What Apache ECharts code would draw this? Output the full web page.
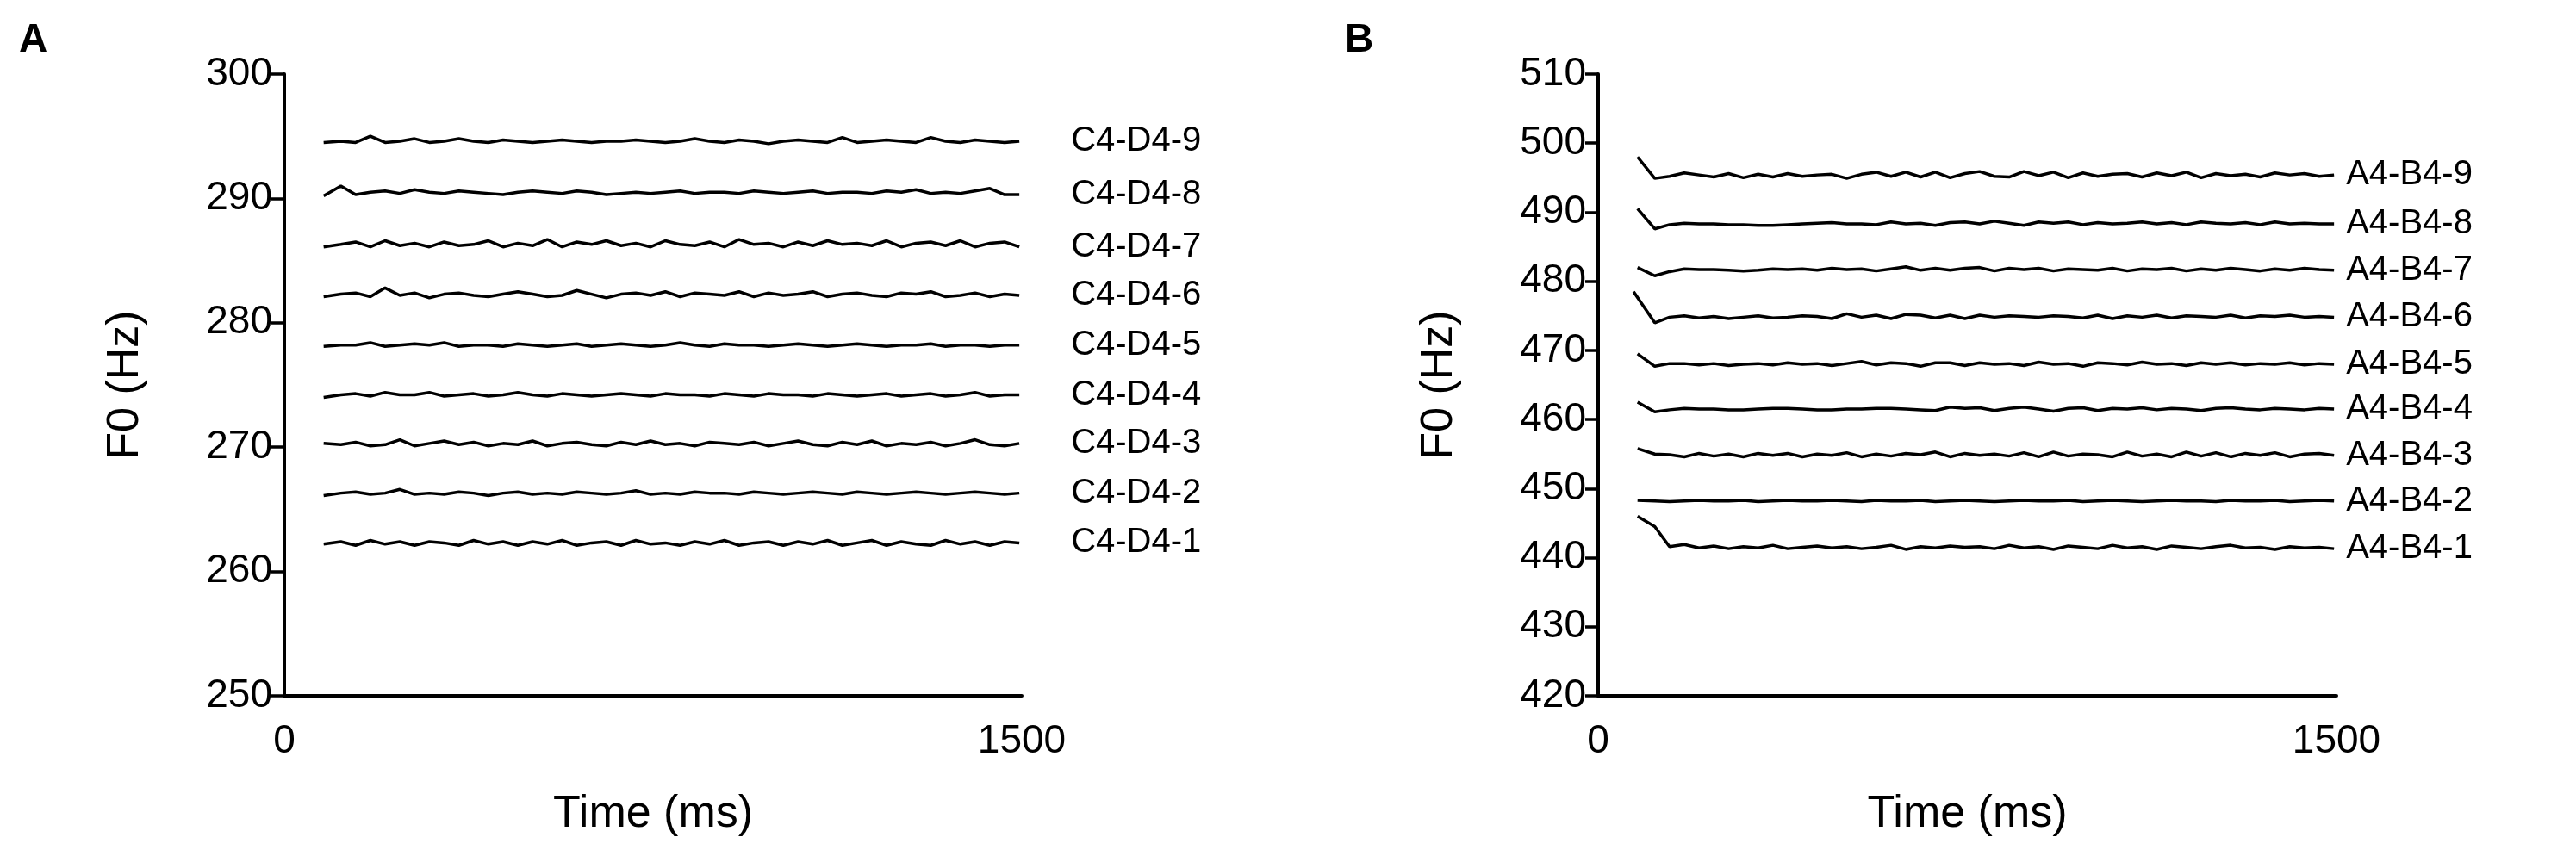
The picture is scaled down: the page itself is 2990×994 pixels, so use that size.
<!DOCTYPE html>
<html><head><meta charset="utf-8">
<script src="https://cdn.jsdelivr.net/npm/echarts@6/dist/echarts.min.js"></script>
<style>html,body{margin:0;padding:0;background:#fff}#c{width:2990px;height:994px}</style>
</head><body><div id="c"></div>
<script>
const times = [80,115,145,175,205,235,265,295,325,355,385,415,445,475,505,535,565,595,625,655,685,715,745,775,805,835,865,895,925,955,985,1015,1045,1075,1105,1135,1165,1195,1225,1255,1285,1315,1345,1375,1405,1435,1465,1495];
const timesB6 = [72,115,145,175,205,235,265,295,325,355,385,415,445,475,505,535,565,595,625,655,685,715,745,775,805,835,865,895,925,955,985,1015,1045,1075,1105,1135,1165,1195,1225,1255,1285,1315,1345,1375,1405,1435,1465,1495];
const namesA = ["C4-D4-1","C4-D4-2","C4-D4-3","C4-D4-4","C4-D4-5","C4-D4-6","C4-D4-7","C4-D4-8","C4-D4-9"];
const namesB = ["A4-B4-1","A4-B4-2","A4-B4-3","A4-B4-4","A4-B4-5","A4-B4-6","A4-B4-7","A4-B4-8","A4-B4-9"];
const yTicksA = [250,300,10];
const yTicksB = [420,510,10];

const A1 = [262.2,262.4,262.1,262.5,262.2,262.4,262.1,262.4,262.3,262.1,262.5,262.2,262.4,262.1,262.4,262.2,262.5,262.1,262.3,262.4,262.1,262.5,262.2,262.3,262.1,262.4,262.2,262.5,262.1,262.3,262.4,262.1,262.4,262.2,262.5,262.1,262.3,262.5,262.1,262.4,262.2,262.1,262.5,262.2,262.4,262.1,262.4,262.3];
const A2 = [266.1,266.3,266.4,266.2,266.3,266.6,266.2,266.3,266.2,266.4,266.3,266.1,266.3,266.4,266.2,266.3,266.2,266.4,266.3,266.2,266.3,266.5,266.2,266.3,266.2,266.4,266.3,266.3,266.2,266.4,266.3,266.2,266.3,266.4,266.3,266.2,266.4,266.3,266.2,266.3,266.4,266.3,266.2,266.3,266.4,266.3,266.2,266.3];
const A3 = [270.3,270.2,270.4,270.1,270.2,270.6,270.1,270.3,270.5,270.2,270.4,270.1,270.3,270.2,270.5,270.1,270.3,270.4,270.2,270.1,270.4,270.2,270.5,270.2,270.3,270.1,270.4,270.3,270.2,270.4,270.1,270.3,270.5,270.2,270.1,270.4,270.2,270.5,270.1,270.3,270.2,270.4,270.1,270.3,270.6,270.2,270.1,270.3];
const A4 = [274.0,274.2,274.3,274.1,274.4,274.2,274.2,274.4,274.1,274.2,274.3,274.1,274.2,274.4,274.2,274.1,274.3,274.2,274.1,274.2,274.3,274.2,274.1,274.3,274.2,274.2,274.1,274.3,274.2,274.1,274.3,274.2,274.2,274.1,274.3,274.2,274.1,274.2,274.3,274.1,274.2,274.3,274.1,274.2,274.4,274.1,274.2,274.2];
const A5 = [278.1,278.2,278.2,278.4,278.1,278.2,278.3,278.2,278.4,278.1,278.2,278.2,278.1,278.3,278.2,278.1,278.2,278.3,278.1,278.2,278.3,278.2,278.1,278.2,278.4,278.2,278.1,278.3,278.2,278.2,278.1,278.2,278.3,278.2,278.1,278.2,278.3,278.2,278.1,278.2,278.2,278.3,278.1,278.2,278.2,278.1,278.2,278.2];
const A6 = [282.1,282.3,282.4,282.1,282.8,282.2,282.4,282.0,282.3,282.4,282.2,282.1,282.3,282.5,282.3,282.1,282.2,282.6,282.3,282.0,282.3,282.4,282.2,282.5,282.1,282.4,282.3,282.2,282.5,282.1,282.4,282.2,282.3,282.5,282.1,282.3,282.4,282.2,282.1,282.4,282.3,282.5,282.1,282.2,282.4,282.1,282.3,282.2];
const A7 = [286.1,286.3,286.5,286.1,286.6,286.2,286.4,286.1,286.5,286.2,286.3,286.6,286.1,286.4,286.2,286.7,286.1,286.5,286.3,286.6,286.2,286.4,286.1,286.6,286.3,286.2,286.5,286.1,286.7,286.3,286.4,286.1,286.5,286.2,286.6,286.3,286.4,286.2,286.6,286.1,286.4,286.5,286.2,286.6,286.1,286.4,286.5,286.1];
const A8 = [290.2,291.0,290.3,290.5,290.6,290.4,290.7,290.5,290.4,290.6,290.5,290.4,290.3,290.5,290.6,290.5,290.4,290.6,290.5,290.3,290.4,290.5,290.4,290.5,290.6,290.4,290.5,290.5,290.4,290.6,290.5,290.4,290.5,290.6,290.4,290.5,290.5,290.4,290.6,290.5,290.7,290.4,290.5,290.4,290.6,290.8,290.3,290.3];
const A9 = [294.5,294.6,294.5,295.0,294.5,294.6,294.8,294.5,294.6,294.8,294.6,294.5,294.7,294.6,294.5,294.6,294.7,294.6,294.5,294.6,294.6,294.7,294.6,294.5,294.6,294.8,294.6,294.5,294.7,294.6,294.4,294.6,294.7,294.6,294.5,294.9,294.5,294.6,294.7,294.6,294.5,294.9,294.6,294.5,294.7,294.6,294.5,294.6];

const B1 = [446.0,444.5,441.6,441.9,441.4,441.7,441.3,441.6,441.4,441.8,441.3,441.5,441.7,441.4,441.6,441.3,441.5,441.8,441.2,441.6,441.4,441.7,441.5,441.6,441.3,441.8,441.4,441.6,441.2,441.7,441.5,441.3,441.8,441.4,441.6,441.2,441.7,441.5,441.3,441.6,441.8,441.4,441.5,441.2,441.6,441.4,441.5,441.3];
const B2 = [448.3,448.2,448.1,448.2,448.3,448.2,448.2,448.3,448.1,448.2,448.3,448.2,448.2,448.3,448.2,448.1,448.3,448.2,448.2,448.3,448.1,448.2,448.3,448.2,448.1,448.2,448.3,448.2,448.2,448.3,448.1,448.2,448.3,448.2,448.1,448.2,448.3,448.2,448.2,448.1,448.3,448.2,448.2,448.3,448.1,448.2,448.3,448.2];
const B3 = [455.8,455.0,454.9,454.6,455.1,454.7,455.0,454.6,455.1,454.8,455.1,454.6,455.0,454.8,455.2,454.6,455.0,454.7,455.1,454.9,455.3,454.6,455.1,454.8,455.0,454.7,455.2,454.6,455.3,454.7,455.0,454.9,454.6,455.3,454.7,455.0,454.6,455.3,454.7,455.2,454.6,455.1,454.8,455.2,454.6,455.0,455.1,454.8];
const B4 = [462.5,461.1,461.4,461.6,461.5,461.5,461.4,461.4,461.5,461.6,461.6,461.5,461.4,461.4,461.5,461.5,461.6,461.6,461.5,461.4,461.3,461.8,461.6,461.7,461.3,461.6,461.8,461.5,461.2,461.6,461.7,461.3,461.6,461.5,461.7,461.4,461.6,461.5,461.3,461.6,461.7,461.5,461.4,461.6,461.5,461.4,461.6,461.5];
const B5 = [469.5,467.7,468.1,468.1,467.9,468.1,467.8,468.0,468.1,467.9,468.2,468.0,468.1,467.8,468.1,468.4,467.9,468.2,468.1,467.7,468.2,468.2,467.8,468.2,468.0,468.1,467.8,468.3,468.0,468.1,467.7,468.2,468.1,467.9,468.3,468.0,468.1,467.8,468.2,468.0,468.2,467.9,468.1,468.0,468.2,467.9,468.1,468.0];
const B6 = [478.5,474.0,474.8,475.0,474.7,474.9,474.6,474.8,475.0,474.7,474.8,475.0,474.9,474.6,475.3,474.8,475.1,474.6,475.2,475.1,474.7,475.1,474.6,475.1,474.8,475.0,474.9,474.8,475.0,474.9,474.7,475.1,474.6,475.0,474.8,475.1,474.7,475.0,474.9,474.8,475.1,474.7,475.0,474.9,475.1,474.8,474.9,474.8];
const B7 = [482.0,480.8,481.4,481.8,481.7,481.7,481.6,481.5,481.6,481.8,481.7,481.8,481.6,481.9,481.7,481.8,481.5,481.8,482.1,481.6,481.9,481.6,481.9,482.0,481.5,481.9,481.7,481.9,481.5,481.8,481.7,481.6,481.9,481.5,481.8,481.7,481.9,481.5,481.8,481.6,481.9,481.7,481.5,481.8,481.6,481.9,481.7,481.6];
const B8 = [490.5,487.6,488.2,488.4,488.3,488.3,488.2,488.2,488.1,488.1,488.2,488.3,488.4,488.5,488.3,488.3,488.2,488.6,488.3,488.4,488.1,488.5,488.6,488.3,488.7,488.4,488.1,488.6,488.4,488.6,488.2,488.5,488.3,488.4,488.6,488.3,488.5,488.2,488.6,488.4,488.3,488.5,488.2,488.6,488.3,488.4,488.3,488.3];
const B9 = [498.0,494.9,495.2,495.7,495.4,495.1,495.6,495.0,495.5,495.1,495.6,495.2,495.4,495.5,494.9,495.5,495.8,495.2,495.8,495.1,495.8,495.0,495.6,495.9,495.2,495.1,495.9,495.3,495.8,495.0,495.7,495.2,495.5,495.6,495.1,495.7,495.3,495.8,495.0,495.6,495.3,495.5,495.1,495.7,495.4,495.6,495.2,495.4];

const seriesA = [A1,A2,A3,A4,A5,A6,A7,A8,A9];
const seriesB = [B1,B2,B3,B4,B5,B6,B7,B8,B9];

const FONT = 'Liberation Sans, Arial, sans-serif';
function pairs(ts, vs){ return vs.slice(0, ts.length).map((v,i)=>[ts[i], v]); }
function mkSeries(vals, names, idx, dist, tsFor){
  return vals.map((v,k)=>({
    type:'line', xAxisIndex:idx, yAxisIndex:idx, name:names[k],
    data:pairs(tsFor(k), v), symbol:'none', silent:true,
    lineStyle:{color:'#000', width:3.5}, animation:false,
    endLabel:{show:true, formatter:names[k], color:'#000', fontFamily:FONT, fontSize:40, distance:dist}
  }));
}
const xAx = (idx)=>({gridIndex:idx, type:'value', min:0, max:1500, interval:1500,
  name:'Time (ms)', nameLocation:'middle', nameGap:112,
  nameTextStyle:{color:'#000', fontSize:52, fontFamily:FONT},
  axisLine:{lineStyle:{color:'#000', width:4}}, axisTick:{show:false},
  axisLabel:{color:'#000', fontSize:46, fontFamily:FONT, margin:30, formatter:(v)=>String(v)}, splitLine:{show:false}});
const yAx = (idx, t)=>({gridIndex:idx, type:'value', min:t[0], max:t[1], interval:t[2],
  name:'F0 (Hz)', nameLocation:'middle', nameGap:158,
  nameTextStyle:{color:'#000', fontSize:52, fontFamily:FONT},
  axisLine:{show:true, lineStyle:{color:'#000', width:4}},
  axisTick:{show:true, length:15, lineStyle:{color:'#000', width:3.5}},
  axisLabel:{color:'#000', fontSize:46, fontFamily:FONT, margin:14}, splitLine:{show:false}});

const chart = echarts.init(document.getElementById('c'));
chart.setOption({
  backgroundColor:'#fff',
  graphic:[
    {type:'text', left:22, top:24, style:{text:'A', font:'bold 46px '+FONT, fill:'#000'}},
    {type:'text', left:1561, top:24, style:{text:'B', font:'bold 46px '+FONT, fill:'#000'}}
  ],
  grid:[
    {left:330, top:86, width:856, height:722},
    {left:1855, top:86, width:857, height:722}
  ],
  xAxis:[xAx(0), xAx(1)],
  yAxis:[yAx(0, yTicksA), yAx(1, yTicksB)],
  series:[].concat(
    mkSeries(seriesA, namesA, 0, 60, ()=>times),
    mkSeries(seriesB, namesB, 1, 14, (k)=> k===5 ? timesB6 : times)
  )
});
</script></body></html>
